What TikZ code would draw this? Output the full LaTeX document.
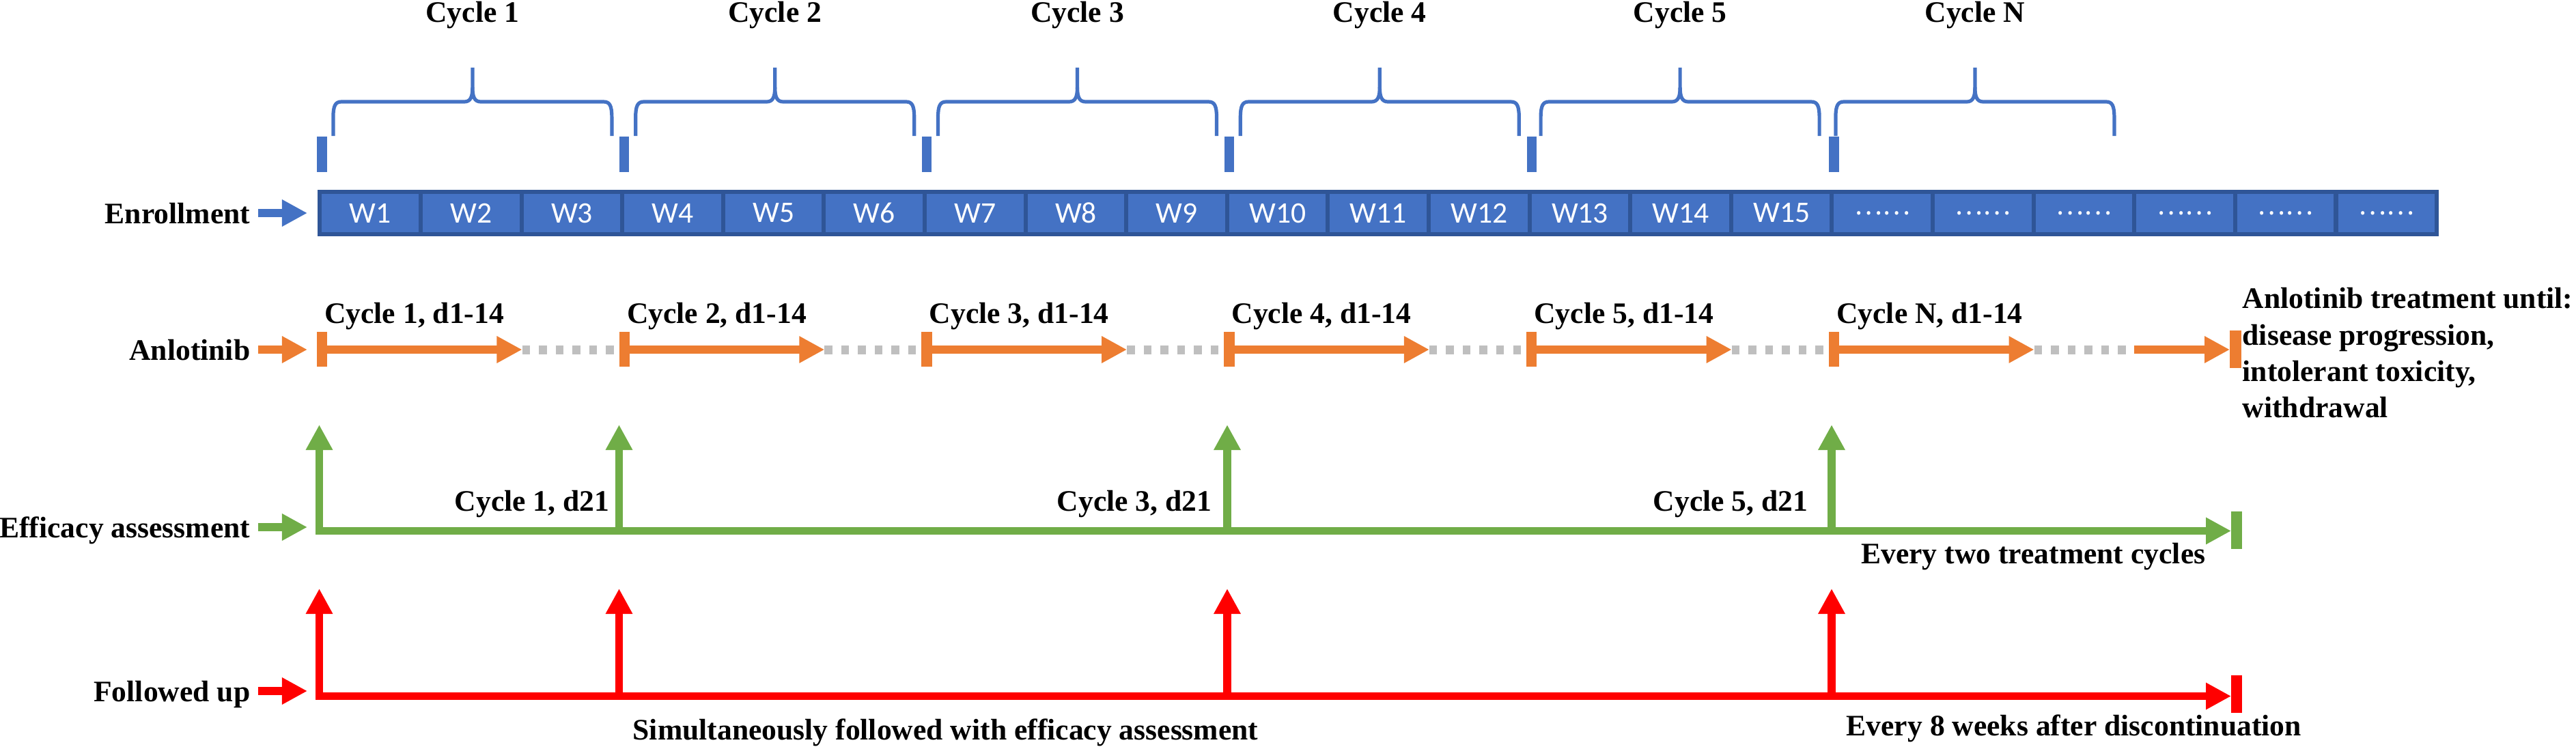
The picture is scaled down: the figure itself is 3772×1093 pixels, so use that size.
\documentclass[tikz,border=0pt]{standalone}
\usepackage{fontspec}
\setmainfont{Liberation Serif}
\newfontfamily\cellfont{Carlito}
\newfontfamily\cjkfont{Noto Sans CJK SC}
\usetikzlibrary{arrows.meta}

\definecolor{cWeek}{HTML}{4472C4}
\definecolor{cWeekEdge}{HTML}{2F5597}
\definecolor{cAnlo}{HTML}{ED7D31}
\definecolor{cPause}{HTML}{BFBFBF}
\definecolor{cEffic}{HTML}{70AD47}
\definecolor{cFollow}{HTML}{FF0000}

\begin{document}
\begin{tikzpicture}[
		x={(0.01cm,0cm)},
		y={(0cm,-0.01cm)},
		lbl/.style={font=\fontsize{12.4}{15.1}\selectfont\bfseries, inner sep=0pt},
		rowlbl/.style={lbl, anchor=east, text height=0.3cm, text depth=0pt},
		week/.style={draw=cWeekEdge, fill=cWeek, line width=0.06cm, minimum width=1.476cm, minimum height=0.62cm, inner sep=0pt, text=white, font=\cellfont\fontsize{12.4}{15}\selectfont},
		thickline/.style={line width=0.117cm},
		bigtip/.style={-{Triangle[length=0.37cm,width=0.37cm]}},
		bothtips/.style={{Triangle[length=0.37cm,width=0.37cm]}-{Triangle[length=0.37cm,width=0.37cm]}},
		pauseline/.style={cPause, line width=0.13cm, dash pattern=on 0.115cm off 0.13cm},
		bracket/.style={cWeek, line width=0.052cm}
	]

		\path[use as bounding box, fill=white] (0,0) rectangle (3772,1093);

		% Row labels
		\node[rowlbl] (enroll) at (367,312) {Enrollment};
		\node[rowlbl] (anlo) at (367,512) {Anlotinib};
		\node[rowlbl] (effic) at (367,772) {Efficacy assessment};
		\node[rowlbl] (follow) at (367,1012) {Followed up};

		\draw[cWeek, thickline, bigtip] (enroll.east) ++(11,0) -- ++(72,0);
		\draw[cAnlo, thickline, bigtip] (anlo.east) ++(11,0) -- ++(72,0);
		\draw[cEffic, thickline, bigtip] (effic.east) ++(11,0) -- ++(72,0);
		\draw[cFollow, thickline, bigtip] (follow.east) ++(11,0) -- ++(72,0);

		% Weeks
		\foreach \i in {1,...,21} {
			\pgfmathsetmacro\wx{468.5+147.6*(\i-0.5)}
			\ifnum\i<16
				\node[week] (w\i) at (\wx,312) {W\i};
			\else
				\node[week] (w\i) at (\wx,312) {\cjkfont\fontsize{11}{12}\selectfont ……};
			\fi
		}

		% Cycles and braces
		\foreach \c/\name/\dx in {1/1/0,2/2/0,3/3/0,4/4/0,5/5/-3,6/N/-14} {
			\pgfmathsetmacro\xc{468.5+442.8*(\c-1)+223.4+\dx}
			\pgfmathsetmacro\bx{468.5+442.8*(\c-1)}
			\draw[cWeek, line width=0.143cm] (\bx+3,200) -- (\bx+3,252);
			\draw[bracket] (\xc-204,199) -- (\xc-204,172) .. controls (\xc-204,155) and (\xc-201,149) .. (\xc-192,149) -- (\xc-12,149) .. controls (\xc-3,149) and (\xc,142) .. (\xc,128) -- (\xc,99);
			\draw[bracket] (\xc+204,199) -- (\xc+204,172) .. controls (\xc+204,155) and (\xc+201,149) .. (\xc+192,149) -- (\xc+12,149) .. controls (\xc+3,149) and (\xc,142) .. (\xc,128);
			\node[lbl, anchor=base] (cyc\c) at (\xc,32) {Cycle \name};
		}

		% Anlotinib
		\foreach \c/\name in {0/1,1/2,2/3,3/4,4/5,5/N} {
			\pgfmathsetmacro\bx{468.5+442.8*\c}
			\draw[pauseline] (\bx+296,512) -- (\bx+442.8,512);
			\draw[cAnlo, line width=0.153cm] (\bx+3,486) -- (\bx+3,537);
			\draw[cAnlo, thickline, bigtip] (\bx+3,512) -- (\bx+296,512);
			\node[lbl, anchor=base west] (dose\c) at (\bx+6,473) {Cycle \name, d1-14};
		}
		\draw[cAnlo, thickline, bigtip] (3125,512) -- (3265,512);
		\draw[cAnlo, line width=0.17cm] (3273,484) -- (3273,539);
		\node[lbl, anchor=north west, align=left] (stop) at (3283,421) {Anlotinib treatment until:\\disease progression,\\intolerant toxicity,\\withdrawal};

		% Efficacy assessment
		\draw[cEffic, thickline, bothtips] (467.5,622) -- (467.5,777.5) -- (3267,777.5);
		\foreach \x in {906.5,1797,2682}
			\draw[cEffic, thickline, bigtip] (\x,777.5) -- (\x,622);
		\draw[cEffic, line width=0.16cm] (3275,749) -- (3275,804);
		\node[lbl, anchor=base east] (eva1) at (893,748) {Cycle 1, d21};
		\node[lbl, anchor=base east] (eva3) at (1775,748) {Cycle 3, d21};
		\node[lbl, anchor=base east] (eva5) at (2648,748) {Cycle 5, d21};
		\node[lbl, anchor=base east] (evaall) at (3230,825) {Every two treatment cycles};

		% Follow up
		\draw[cFollow, thickline, bothtips] (467.5,862) -- (467.5,1019.5) -- (3267,1019.5);
		\foreach \x in {906.5,1797,2682}
			\draw[cFollow, thickline, bigtip] (\x,1019.5) -- (\x,862);
		\draw[cFollow, line width=0.16cm] (3275,989) -- (3275,1044);
		\node[lbl, anchor=base west] (fusim) at (926,1083) {Simultaneously followed with efficacy assessment};
		\node[lbl, anchor=base west] (fuend) at (2703,1077) {Every 8 weeks after discontinuation};
	\end{tikzpicture}
\end{document}
